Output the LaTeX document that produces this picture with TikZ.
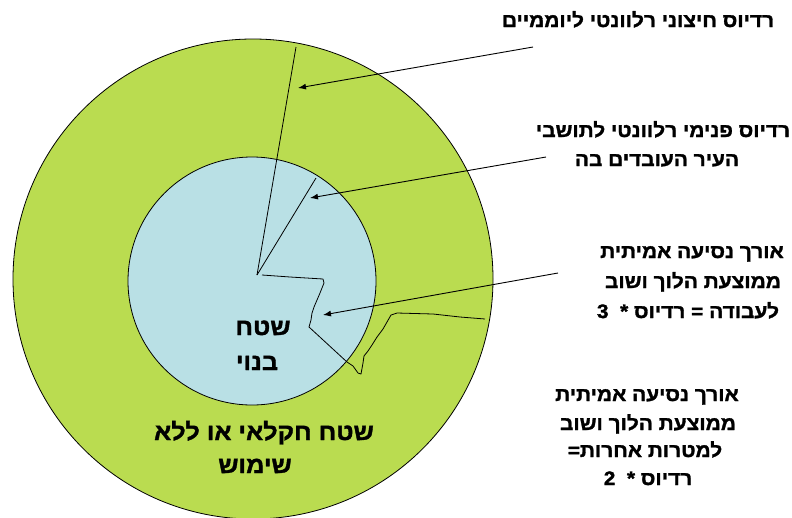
\documentclass[tikz,border=0pt]{standalone}
\usepackage{fontspec}
\newfontfamily\hebb[Script=Hebrew,FakeStretch=1.07,FakeBold=1.5]{Liberation Sans Bold}
\TeXXeTstate=1
\usetikzlibrary{arrows.meta}
\definecolor{agri}{RGB}{186,220,80}
\definecolor{built}{RGB}{185,224,229}
\tikzset{
  lbl/.style={anchor=base,inner sep=0pt,font=\hebb\fontsize{19.5}{23}\selectfont},
  big/.style={anchor=base,inner sep=0pt,font=\hebb\fontsize{23.5}{27}\selectfont},
  ring/.style={draw=black,line width=0.8pt},
  rad/.style={draw=black,line width=0.8pt},
  pointer/.style={draw=black,line width=0.9pt,-{Latex[length=8pt,width=6pt]}},
  route/.style={draw=black,line width=0.8pt,line join=round}
}
\begin{document}
\begin{tikzpicture}[x=1pt,y=-1pt]
\useasboundingbox (0,0) rectangle (792,517);
% circles
\path[ring,fill=agri] (253,279) circle[radius=240pt];
\path[ring,fill=built] (252,281) circle[radius=124pt];
% centre and radius ends
\coordinate (c) at (257,275);
\coordinate (ro) at (296,47);
\coordinate (ri) at (316,178);
\draw[rad] (c) -- (ro);
\draw[rad] (c) -- (ri);
% route
\coordinate (w0) at (262,275);
\coordinate (w1) at (485,319);
\draw[route] (w0) -- (290,277) -- (323,279) -- (324,283) -- (320,293) -- (314,307) -- (312,313) -- (311,320) -- (309,327)
  -- (347,362) -- (353,366) -- (358,373) -- (361,374) -- (363,363) -- (364,356) -- (368,351) -- (372,345)
  -- (377,337) -- (383,329) -- (387,322) -- (391,315) -- (397,313) -- (433,314) -- (460,317) -- (w1);
% labels
\node[lbl] (l1) at (638,27) {\beginR רדיוס חיצוני רלוונטי ליוממיים\endR};
\node[lbl] (l2a) at (663,137) {\beginR רדיוס פנימי רלוונטי לתושבי\endR};
\node[lbl] (l2b) at (657,166) {\beginR העיר העובדים בה\endR};
\node[lbl] (l3a) at (692,258) {\beginR אורך נסיעה אמיתית\endR};
\node[lbl] (l3b) at (693,288) {\beginR ממוצעת הלוך ושוב\endR};
\node[lbl] (l3c) at (688,318) {\beginR לעבודה = רדיוס *\ \ 3\endR};
\node[lbl] (l4a) at (647,401) {\beginR אורך נסיעה אמיתית\endR};
\node[lbl] (l4b) at (648,430) {\beginR ממוצעת הלוך ושוב\endR};
\node[lbl] (l4c) at (645,457) {\beginR למטרות אחרות=\endR};
\node[lbl] (l4d) at (648,485) {\beginR רדיוס *\ \ 2\endR};
\node[big] (b1) at (263,335) {\beginR שטח\endR};
\node[big] (b2) at (257,370) {\beginR בנוי\endR};
\node[big] (g1) at (264,440) {\beginR שטח חקלאי או ללא\endR};
\node[big] (g2) at (255,473) {\beginR שימוש\endR};
% pointers
\coordinate (p1s) at (533,47);
\coordinate (p1e) at (298,88);
\coordinate (p2s) at (546,157);
\coordinate (p2e) at (310,198);
\coordinate (p3s) at (558,273);
\coordinate (p3e) at (323,315);
\draw[pointer] (p1s) -- (p1e);
\draw[pointer] (p2s) -- (p2e);
\draw[pointer] (p3s) -- (p3e);
\end{tikzpicture}
\end{document}
